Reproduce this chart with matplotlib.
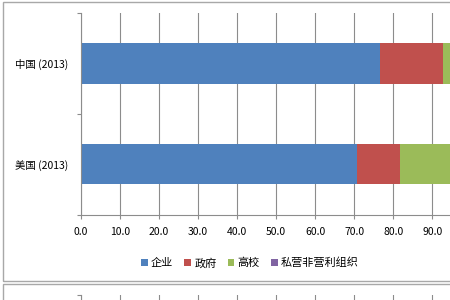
import matplotlib
matplotlib.use("Agg")
import matplotlib.pyplot as plt
from matplotlib.patches import Patch, Rectangle

plt.rcParams['font.family'] = ['Noto Sans CJK SC', 'DejaVu Sans']

categories = ["美国 (2013)", "中国 (2013)"]
series_names = ["企业", "政府", "高校", "私营非营利组织"]
enterprise = [70.7, 76.6]
government = [11.0, 16.1]
university = [14.3, 7.3]
nonprofit = [4.0, 0.0]
xticks = [0, 10, 20, 30, 40, 50, 60, 70, 80, 90, 100]
colors = ["#4F81BD", "#C0504D", "#9BBB59", "#8064A2"]

W, H = 450, 300
fig = plt.figure(figsize=(4.5, 3.0), dpi=100)
fig.patch.set_facecolor("white")

# outer chart frames
fig.patches.append(Rectangle((2.5 / W, 1 - 281 / H), 1.2, (281 - 2) / H,
                             transform=fig.transFigure, fill=False,
                             edgecolor="#A8A8A8", linewidth=1.0))
fig.patches.append(Rectangle((2.5 / W, -0.5), 1.2, 0.5 + 1 - 284 / H,
                             transform=fig.transFigure, fill=False,
                             edgecolor="#A8A8A8", linewidth=1.0))

grid_c = "#8C8C8C"

ax = fig.add_axes([81 / W, 1 - 214.5 / H, (471.3 - 81) / W, (214.5 - 13) / H])
ypos = [0, 1]
series = [enterprise, government, university, nonprofit]
left = [0.0, 0.0]
for vals, c in zip(series, colors):
    ax.barh(ypos, vals, left=left, height=0.4, color=c, zorder=2)
    left = [l + v for l, v in zip(left, vals)]

ax.set_xlim(0, 100)
ax.set_ylim(-0.5, 1.5)
ax.set_xticks(xticks)
# the 100.0 label lies beyond the visible (cropped) area of the picture
ax.set_xticklabels([f"{v:.1f}" if v < 100 else "" for v in xticks], fontsize=7.5)
ax.set_yticks(ypos)
ax.set_yticklabels(categories, fontsize=7.5)
ax.set_yticks([-0.5, 0.5, 1.5], minor=True)
ax.tick_params(axis="y", which="major", length=0, pad=9)
ax.tick_params(axis="y", which="minor", length=3, color=grid_c, width=0.8)
ax.tick_params(axis="x", length=3, color=grid_c, width=0.8, pad=6)
ax.grid(axis="x", color=grid_c, linewidth=0.8, zorder=0)
for s in ["top", "right"]:
    ax.spines[s].set_visible(False)
for s in ["left", "bottom"]:
    ax.spines[s].set_color(grid_c)
    ax.spines[s].set_linewidth(0.8)

handles = [Patch(facecolor=c, edgecolor="none") for c in colors]
fig.legend(handles, series_names, loc="center", bbox_to_anchor=(250 / W, 1 - 263 / H),
           ncol=4, frameon=False, fontsize=8, handlelength=0.6, handleheight=0.6,
           handletextpad=0.3, columnspacing=1.0, borderpad=0)

# start of the next chart below
ax2 = fig.add_axes([81 / W, -0.5, (471.3 - 81) / W, 0.5 + 1 - 295 / H])
ax2.set_xlim(0, 100)
ax2.set_ylim(0, 1)
ax2.set_xticks(xticks)
ax2.tick_params(axis="x", length=0, labelbottom=False)
ax2.set_yticks([1.0])
ax2.tick_params(axis="y", length=3, color=grid_c, width=0.8, labelleft=False)
ax2.grid(axis="x", color=grid_c, linewidth=0.8)
for s in ["top", "right", "bottom"]:
    ax2.spines[s].set_visible(False)
ax2.spines["left"].set_color(grid_c)
ax2.spines["left"].set_linewidth(0.8)

fig.savefig("out.png", dpi=100)
